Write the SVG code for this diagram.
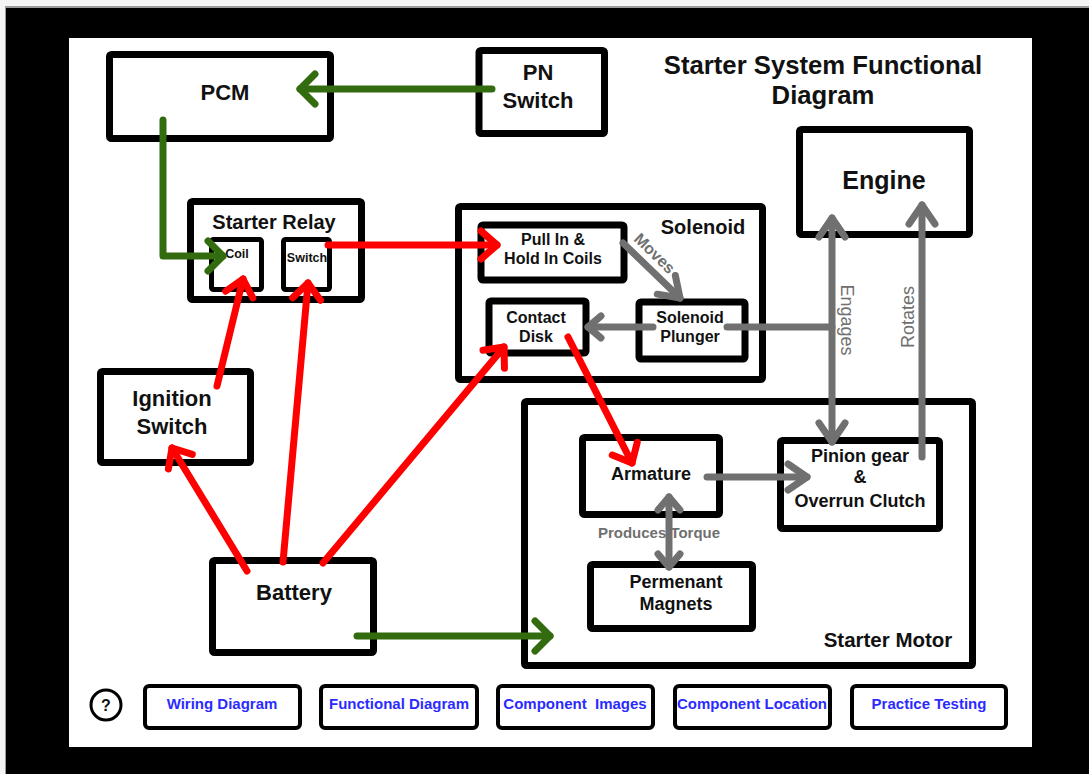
<svg xmlns="http://www.w3.org/2000/svg" width="1089" height="774" viewBox="0 0 1089 774">
<style>
.box{fill:#fff;stroke:#000;stroke-width:7;stroke-linejoin:round}
.sbox{fill:#fff;stroke:#000;stroke-width:5;stroke-linejoin:round}
.btn{fill:#fff;stroke:#000;stroke-width:4}
.t{font-family:"Liberation Sans",Arial,sans-serif;font-weight:bold;fill:#111;text-anchor:middle}
.bt{font-family:"Liberation Sans",Arial,sans-serif;font-weight:bold;fill:#2b2bff;text-anchor:middle;font-size:15px;white-space:pre}
.g{fill:none;stroke:#336b0f;stroke-width:7;stroke-linecap:round;stroke-linejoin:round}
.r{fill:none;stroke:#ff0000;stroke-width:7;stroke-linecap:round;stroke-linejoin:round}
.y{fill:none;stroke:#707070;stroke-width:7;stroke-linecap:round;stroke-linejoin:round}
.lbl{font-family:"Liberation Sans",Arial,sans-serif;fill:#707070;text-anchor:middle}
</style>
<defs>
<marker id="ag" markerUnits="userSpaceOnUse" viewBox="-30 -30 60 60" markerWidth="60" markerHeight="60" refX="0" refY="0" orient="auto" overflow="visible"><path d="M-15,-15 L0,0 L-15,15" fill="none" stroke="#336b0f" stroke-width="7" stroke-linecap="round" stroke-linejoin="round"/></marker>
<marker id="ar" markerUnits="userSpaceOnUse" viewBox="-30 -30 60 60" markerWidth="60" markerHeight="60" refX="0" refY="0" orient="auto" overflow="visible"><path d="M-16,-14 L0,0 L-16,14" fill="none" stroke="#ff0000" stroke-width="7" stroke-linecap="round" stroke-linejoin="round"/></marker>
<marker id="ay" markerUnits="userSpaceOnUse" viewBox="-30 -30 60 60" markerWidth="60" markerHeight="60" refX="0" refY="0" orient="auto-start-reverse" overflow="visible"><path d="M-19,-13 L0,0 L-19,13" fill="none" stroke="#707070" stroke-width="7" stroke-linecap="round" stroke-linejoin="round"/></marker>
<marker id="ays" markerUnits="userSpaceOnUse" viewBox="-30 -30 60 60" markerWidth="60" markerHeight="60" refX="0" refY="0" orient="auto-start-reverse" overflow="visible"><path d="M-13,-11 L0,0 L-13,11" fill="none" stroke="#707070" stroke-width="7" stroke-linecap="round" stroke-linejoin="round"/></marker>
</defs>

<g id="frame">
<rect x="0" y="0" width="1089" height="774" fill="#f4f4f4"/>
<rect x="5" y="6" width="1084" height="768" fill="#9a9a9a"/>
<rect x="6" y="8" width="1083" height="766" fill="#000"/>
<rect x="69" y="38" width="963" height="709" fill="#fff"/>
</g>

<g id="title">
<text class="t" x="823" y="74" font-size="25.7">Starter System Functional</text>
<text class="t" x="823" y="104" font-size="25.7">Diagram</text>
</g>

<g id="pcm"><rect class="box" x="109.5" y="54.5" width="221" height="84" rx="2"/><text class="t" x="225" y="100" font-size="22">PCM</text></g>
<g id="pn-switch"><rect class="box" x="479" y="50.5" width="125.5" height="83" rx="2"/><text class="t" x="538" y="80" font-size="22">PN</text><text class="t" x="538" y="108" font-size="22">Switch</text></g>
<g id="engine"><rect class="box" x="799.5" y="129.5" width="170" height="105" rx="2"/><text class="t" x="884" y="189" font-size="25">Engine</text></g>

<g id="starter-relay">
<rect class="box" x="190.5" y="201.5" width="171" height="98" rx="2"/>
<text class="t" x="274" y="229" font-size="20">Starter Relay</text>
<g id="coil"><rect class="sbox" x="211.5" y="239.5" width="50" height="50" rx="2"/><text class="t" x="237" y="258" font-size="12.5">Coil</text></g>
<g id="relay-switch"><rect class="sbox" x="283.5" y="239.5" width="46" height="50" rx="2"/><text class="t" x="307" y="262" font-size="12.5">Switch</text></g>
</g>

<g id="solenoid">
<rect class="box" x="458.5" y="206.5" width="304" height="173" rx="2"/>
<text class="t" x="703" y="234" font-size="20">Solenoid</text>
<g id="pull-in"><rect class="box" x="481" y="225" width="143" height="55" stroke-width="6" rx="2"/><text class="t" x="553" y="245" font-size="16">Pull In &amp;</text><text class="t" x="553" y="264" font-size="16">Hold In Coils</text></g>
<g id="contact-disk"><rect class="box" x="489" y="301" width="97" height="52" stroke-width="6" rx="2"/><text class="t" x="536" y="323" font-size="16">Contact</text><text class="t" x="536" y="342" font-size="16">Disk</text></g>
<g id="plunger"><rect class="box" x="639" y="302" width="106" height="57" stroke-width="6" rx="2"/><text class="t" x="690" y="323" font-size="16">Solenoid</text><text class="t" x="690" y="342" font-size="16">Plunger</text></g>
</g>

<g id="ignition-switch"><rect class="box" x="100.5" y="371.5" width="150" height="91" rx="2"/><text class="t" x="172" y="406" font-size="22">Ignition</text><text class="t" x="172" y="434" font-size="22">Switch</text></g>

<g id="starter-motor">
<rect class="box" x="524.5" y="401.5" width="448" height="264" rx="2"/>
<text class="t" x="888" y="647" font-size="20.5">Starter Motor</text>
<g id="armature"><rect class="box" x="582.5" y="437.5" width="137" height="77" rx="2"/><text class="t" x="651" y="480" font-size="18">Armature</text></g>
<g id="pinion"><rect class="box" x="780.5" y="440.5" width="159" height="88" rx="2"/><text class="t" x="860" y="462" font-size="18">Pinion gear</text><text class="t" x="860" y="483" font-size="18">&amp;</text><text class="t" x="860" y="507" font-size="18">Overrun Clutch</text></g>
<g id="magnets"><rect class="box" x="590.5" y="564.5" width="162" height="64" rx="2"/><text class="t" x="676" y="588" font-size="18">Permenant</text><text class="t" x="676" y="610" font-size="18">Magnets</text></g>
</g>

<g id="battery"><rect class="box" x="212.5" y="560.5" width="161" height="92" rx="2"/><text class="t" x="294" y="600" font-size="22">Battery</text></g>

<g id="connectors">
<path class="g" d="M492,89 L300,89" marker-end="url(#ag)"/>
<path class="g" d="M163,120 L163,256 L223,256" marker-end="url(#ag)"/>
<path class="g" d="M357,636 L550,636" marker-end="url(#ag)"/>
<path class="r" d="M328,245 L497,245" marker-end="url(#ar)"/>
<path class="r" d="M217,386 L243,279" marker-end="url(#ar)"/>
<path class="r" d="M283,562 L308,283" marker-end="url(#ar)"/>
<path class="r" d="M247,571 L172,448" marker-end="url(#ar)"/>
<path class="r" d="M323,563 L504,347" marker-end="url(#ar)"/>
<path class="r" d="M568,337 L632,463" marker-end="url(#ar)"/>
<path class="y" d="M623,243 L680,298" marker-end="url(#ay)"/>
<path class="y" d="M653,327 L588,327" marker-end="url(#ays)"/>
<path class="y" d="M727,327 L832,327"/>
<path class="y" d="M832,218 L832,442" marker-start="url(#ay)" marker-end="url(#ay)"/>
<path class="y" d="M922,457 L922,205" marker-end="url(#ay)"/>
<path class="y" d="M707,477 L807,477" marker-end="url(#ay)"/>
<path class="y" d="M669,497 L669,567" marker-start="url(#ays)" marker-end="url(#ays)"/>
<text class="lbl" font-weight="bold" font-size="16" transform="translate(655,253) rotate(44)" y="6">Moves</text>
<text class="lbl" font-size="18" transform="translate(847,320) rotate(90)" y="6">Engages</text>
<text class="lbl" font-size="18" transform="translate(908,317) rotate(-90)" y="6">Rotates</text>
<text class="lbl" font-weight="bold" font-size="15" x="659" y="538">Produces Torque</text>
</g>

<g id="nav">
<g id="help"><circle cx="106" cy="705" r="15" fill="#fff" stroke="#000" stroke-width="3"/><text class="t" x="106" y="711" font-size="16">?</text></g>
<g id="btn-wiring"><rect class="btn" x="145" y="686" width="155" height="42" rx="4"/><text class="bt" x="222" y="709">Wiring Diagram</text></g>
<g id="btn-functional"><rect class="btn" x="321" y="686" width="156" height="42" rx="4"/><text class="bt" x="399" y="709">Functional Diagram</text></g>
<g id="btn-images"><rect class="btn" x="498" y="686" width="155" height="42" rx="4"/><text class="bt" x="575" y="709">Component  Images</text></g>
<g id="btn-location"><rect class="btn" x="675" y="686" width="155" height="42" rx="4"/><text class="bt" x="752" y="709">Component Location</text></g>
<g id="btn-practice"><rect class="btn" x="852" y="686" width="154" height="42" rx="4"/><text class="bt" x="929" y="709">Practice Testing</text></g>
</g>
</svg>
